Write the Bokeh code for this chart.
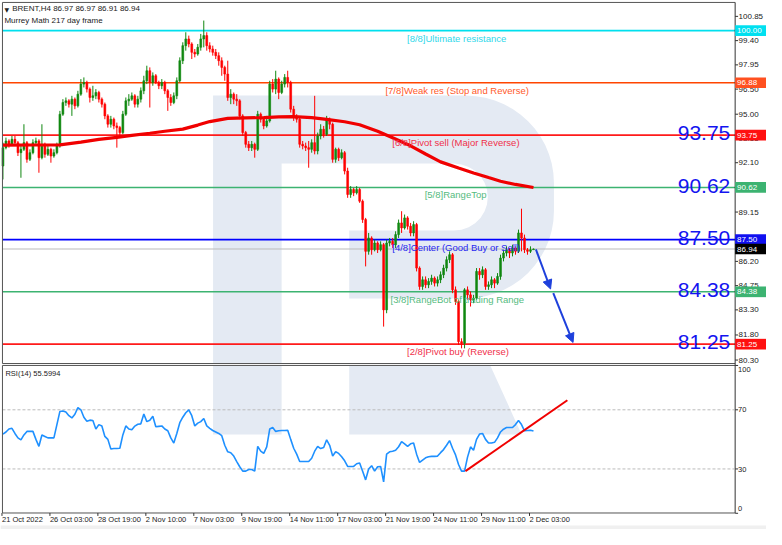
import math
from bokeh.plotting import figure
from bokeh.models import Arrow, NormalHead, Range1d
from bokeh.embed import file_html
from bokeh.resources import INLINE
from bokeh.core.properties import value

# ---------------- data ----------------
first_open = 91.9
close = [
    93.0, 93.4, 93.2, 93.5, 93.3, 92.7, 92.9, 93.3, 92.3, 92.7,
    93.3, 93.4, 92.4, 93.2, 92.6, 92.9, 92.5, 92.7, 93.1, 95.0,
    95.7, 95.8, 95.6, 95.9, 95.5, 96.2, 96.8, 96.9, 96.5, 96.0,
    96.1, 96.3, 95.9, 95.6, 94.9, 94.4, 94.7, 94.3, 94.2, 93.9,
    95.0, 95.8, 95.9, 96.1, 95.6, 95.9, 96.4, 97.0, 97.6, 96.9,
    97.3, 96.9, 96.7, 96.9, 96.4, 96.0, 95.7, 96.1, 97.0, 98.2,
    99.1, 99.5, 99.2, 98.7, 98.6, 99.0, 99.5, 99.7, 99.1, 98.9,
    98.7, 98.5, 98.2, 97.8, 97.4, 96.0, 96.2, 95.9, 95.8, 94.9,
    93.9, 93.2, 93.0, 93.2, 92.9, 95.0, 94.7, 94.3, 94.6, 96.8,
    96.5, 97.1, 96.3, 96.8, 97.2, 96.9, 95.3, 94.8, 94.7, 93.2,
    93.1, 93.0, 92.9, 93.3, 92.8, 93.7, 94.1, 93.8, 94.7, 94.4,
    92.3, 92.9, 92.4, 92.7, 91.6, 90.2, 90.5, 90.3, 90.5, 89.8,
    88.7, 86.8, 87.6, 86.9, 87.3, 86.9, 87.2, 83.3, 87.3, 87.4,
    87.2, 87.8, 88.5, 88.2, 88.8, 88.3, 87.9, 88.4, 85.8, 84.7,
    85.1, 84.8, 85.0, 85.2, 84.9, 85.1, 85.4, 85.8, 86.3, 86.6,
    84.5, 83.8, 81.4, 81.3, 84.5, 84.2, 83.9, 84.0, 85.6, 85.4,
    85.7, 84.7, 84.8, 85.1, 84.9, 85.3, 86.4, 86.7, 86.9, 86.7,
    87.0, 86.8, 87.9, 87.6, 86.9, 86.8, 86.9, 86.94,
]
high = [
    93.3, 93.6, 93.5, 93.7, 93.7, 93.4, 93.1, 94.4, 93.4, 92.9,
    93.5, 93.6, 93.5, 94.4, 93.3, 93.1, 93.0, 92.9, 93.3, 95.2,
    95.9, 96.0, 95.9, 96.1, 96.0, 96.4, 97.1, 97.2, 97.0, 96.6,
    96.7, 96.5, 96.4, 96.0, 95.7, 95.0, 94.9, 94.8, 94.5, 94.3,
    95.2, 96.0, 96.2, 96.3, 96.2, 96.1, 96.6, 97.3, 97.9, 97.8,
    97.5, 97.4, 97.0, 97.1, 97.0, 96.5, 96.2, 96.3, 97.2, 98.4,
    99.3, 99.9, 99.7, 99.3, 98.9, 99.2, 99.8, 100.6, 99.9, 99.3,
    99.1, 98.9, 98.7, 98.4, 97.9, 98.2, 96.5, 96.3, 96.2, 95.9,
    95.0, 94.0, 93.4, 93.4, 93.3, 95.2, 95.1, 94.8, 94.9, 97.0,
    97.1, 97.6, 97.2, 97.0, 97.4, 97.6, 97.0, 95.5, 95.0, 94.8,
    93.4, 93.3, 93.4, 93.5, 96.1, 93.9, 94.4, 94.3, 94.9, 94.8,
    94.5, 93.0, 93.0, 92.9, 92.8, 91.8, 90.7, 90.6, 90.7, 90.6,
    89.9, 88.8, 87.9, 87.7, 87.5, 87.4, 87.4, 87.3, 87.5, 87.6,
    87.6, 88.0, 88.7, 89.2, 89.0, 88.9, 88.5, 88.6, 88.5, 85.9,
    85.3, 85.3, 85.2, 85.4, 85.3, 85.3, 85.6, 86.0, 86.5, 86.8,
    86.7, 84.7, 83.9, 81.6, 84.6, 84.7, 84.4, 84.2, 85.8, 85.8,
    85.9, 85.8, 85.0, 85.3, 85.2, 85.5, 86.6, 86.9, 87.1, 87.0,
    87.2, 87.1, 88.1, 89.35, 87.8, 87.0, 87.1, 86.97,
]
low = [
    91.1, 92.9, 93.0, 93.1, 93.1, 92.5, 91.2, 92.8, 92.1, 92.2,
    92.6, 93.1, 91.5, 92.3, 92.4, 92.5, 92.1, 92.4, 92.6, 93.0,
    94.9, 95.5, 95.4, 94.9, 95.3, 95.4, 96.1, 96.6, 96.3, 95.7,
    95.8, 95.9, 95.7, 95.4, 94.7, 94.2, 94.2, 94.1, 93.0, 93.7,
    93.8, 94.9, 95.5, 95.8, 95.4, 95.4, 95.7, 96.2, 96.8, 95.4,
    96.7, 96.8, 96.5, 96.5, 96.2, 95.2, 95.5, 95.6, 95.9, 96.9,
    98.0, 98.8, 99.0, 98.3, 98.4, 98.5, 98.8, 99.0, 98.8, 98.7,
    98.5, 98.3, 97.9, 97.3, 97.0, 95.8, 95.6, 95.6, 95.5, 94.7,
    93.7, 93.0, 92.8, 92.8, 92.4, 92.8, 94.5, 94.1, 94.2, 94.5,
    96.3, 96.2, 95.9, 96.2, 96.6, 96.6, 95.1, 94.6, 94.5, 93.0,
    92.9, 92.8, 91.8, 92.7, 92.6, 92.6, 93.5, 93.6, 93.7, 94.1,
    92.1, 92.1, 92.2, 92.3, 91.4, 90.0, 90.0, 90.1, 90.2, 89.7,
    88.5, 85.9, 86.6, 86.6, 86.8, 86.7, 86.8, 82.3, 83.1, 87.1,
    87.0, 87.0, 87.6, 87.9, 88.1, 88.1, 87.7, 87.7, 85.6, 84.5,
    84.5, 84.6, 84.6, 84.8, 84.7, 84.7, 84.9, 85.2, 85.6, 86.1,
    84.3, 83.6, 81.2, 81.0, 81.0, 83.9, 83.5, 83.7, 83.9, 85.1,
    85.2, 84.5, 84.5, 84.6, 84.6, 84.8, 85.1, 86.2, 86.5, 86.4,
    86.5, 86.6, 86.7, 86.8, 86.7, 86.6, 86.7, 86.91,
]
rsi = [
    53.6, 55.0, 57.0, 57.5, 54.0, 51.0, 49.7, 53.0, 55.4, 55.4,
    55.4, 50.0, 45.3, 53.0, 52.0, 51.0, 51.0, 51.0, 60.0, 68.9,
    69.2, 68.5, 66.0, 64.5, 67.0, 71.5, 70.0, 65.0, 62.3, 63.0,
    62.8, 57.0, 60.0, 59.0, 52.0, 50.0, 43.5, 43.8, 43.8, 44.0,
    53.0, 59.1, 57.0, 56.5, 59.0, 60.2, 60.5, 67.2, 62.0, 63.0,
    65.6, 58.5, 58.8, 59.1, 57.0, 55.8, 51.0, 47.5, 54.0, 61.3,
    65.0, 68.0, 70.0, 66.0, 59.1, 61.0, 62.0, 64.1, 59.1, 57.5,
    56.0, 55.0, 54.0, 52.5, 46.0, 41.6, 41.0, 38.7, 35.0, 31.5,
    28.5, 28.5, 29.6, 29.6, 28.5, 45.3, 42.0, 40.5, 44.9, 57.0,
    58.0, 55.4, 55.8, 56.0, 56.0, 56.2, 50.0, 44.0, 40.0, 35.0,
    35.0, 35.0, 35.0, 37.2, 42.0, 45.3, 43.8, 44.5, 49.7, 46.0,
    38.7, 41.6, 40.5, 38.3, 35.5, 31.7, 31.7, 31.7, 33.5, 34.0,
    28.5, 22.6, 30.0, 32.2, 28.5, 31.5, 31.7, 21.3, 40.0, 41.6,
    42.0, 42.7, 45.0, 48.5, 47.0, 45.3, 47.0, 47.5, 40.0, 34.4,
    36.0, 37.5, 38.3, 38.5, 38.5, 38.7, 41.0, 43.1, 46.0, 49.2,
    44.0, 39.5, 33.0, 28.5, 28.5, 38.0, 44.9, 42.7, 50.0, 53.6,
    54.0, 50.0, 47.5, 47.5, 48.0, 51.0, 55.0, 56.9, 58.0, 58.0,
    58.0, 60.0, 62.8, 60.0, 55.8, 56.0, 56.2, 55.6,
]
ma_bar = [0, 10, 19, 26, 32, 38, 43, 49, 54, 60, 65, 69, 75, 81, 87, 92, 97, 103, 108,
          114, 119, 125, 130, 136, 141, 146, 152, 157, 162, 166, 171, 177]
ma_val = [93.15, 93.16, 93.17, 93.33, 93.50, 93.62, 93.73, 93.86, 93.98, 94.11, 94.35, 94.56,
          94.75, 94.78, 94.80, 94.84, 94.85, 94.80, 94.69, 94.55, 94.37, 93.98, 93.59, 93.11,
          92.62, 92.15, 91.78, 91.49, 91.21, 90.99, 90.80, 90.62]

levels = [100.00, 96.88, 93.75, 90.62, 87.50, 84.38, 81.25]
level_names = ["[8/8]Ultimate resistance", "[7/8]Weak res (Stop and Reverse)",
               "[6/8]Pivot sell (Major Reverse)", "[5/8]RangeTop",
               "[4/8]Center (Good Buy or Sell)", "[3/8]RangeBot of trading Range",
               "[2/8]Pivot buy (Reverse)"]
level_colors = ["#00E0EE", "#FF4500", "#FF1A1A", "#3CB371", "#0000FF", "#3CB371", "#FF1A1A"]
level_text_colors = ["#30D8EA", "#FF5A2A", "#F0304A", "#55BB80", "#2828F0", "#55BB80", "#F0304A"]
level_box_colors = ["#00E0F0", "#FF5020", "#FF1010", "#3CB371", "#1010F0", "#3CB371", "#FF1010"]
level_text_bar = [134.8, 127.6, 129.9, 140.7, 129.9, 129.3, 134.8]
big_levels = [93.75, 90.62, 87.50, 84.38, 81.25]
last_price = 86.94
price_ticks = [100.85, 99.40, 97.95, 96.50, 95.00, 93.55, 92.10, 89.15,
               86.20, 84.75, 83.30, 81.80, 80.30]
rsi_ticks = [100, 70, 30, 0]
rsi_levels = [70, 30]
date_tick_bars = [0, 16, 32, 48, 64, 80, 96, 112, 128, 144, 160, 176]
date_labels = ["21 Oct 2022", "26 Oct 03:00", "28 Oct 19:00", "2 Nov 10:00", "7 Nov 03:00",
               "9 Nov 19:00", "14 Nov 11:00", "17 Nov 03:00", "21 Nov 19:00", "24 Nov 11:00",
               "29 Nov 11:00", "2 Dec 03:00"]
arrow_x0 = [177.8, 183.6]
arrow_y0 = [86.92, 84.30]
arrow_x1 = [182.7, 190.2]
arrow_y1 = [84.55, 81.35]
rsi_trend_bar = [154.3, 188.3]
rsi_trend_val = [28.5, 76.5]
title1 = "BRENT,H4  86.97 86.97 86.91 86.94"
title2 = "Murrey Math 217 day frame"
rsi_title = "RSI(14) 55.5994"

# ---------------- layout: reference-pixel helpers ----------------
FNAME = "Liberation Sans"
FONT = value(FNAME)
W, H = 766, 529
REF_W, REF_H = 782, 545
BAR0, BARW = 2.5, 3.06          # bar 0 centre and bar pitch in reference pixels
PY0, PPX = 31.0, 17.23          # price 100 at y=31, px per price unit
RY0, RPX = 376.0, 1.523         # rsi 100 at y=376, px per rsi unit

def X(xr):
    return (xr - BAR0) / BARW
def PY(yr):
    return 100 - (yr - PY0) / PPX
def RY(yr):
    return 100 - (yr - RY0) / RPX

XS, XE = X(0), X(REF_W)
YS, YE = PY(REF_H), PY(0)
RS, RE = RY(REF_H), RY(0)

AXIS_X = 750        # right price axis line
LEFT_X = 2
MAIN_TOP, MAIN_BOT = 2, 374
RSI_TOP, RSI_BOT = 376, 528
INK = "#222222"
FRAME = "#555555"
GREEN, RED = "#118811", "#FF0000"
LOGO = "#E4EAF3"

bars = list(range(len(close)))
opens = [first_open] + close[:-1]
cols = [GREEN if c >= o else RED for o, c in zip(opens, close)]
body_lo = [min(o, c) for o, c in zip(opens, close)]
body_hi = [max(o, c) for o, c in zip(opens, close)]

p = figure(width=W, height=H, x_range=Range1d(XS, XE), y_range=Range1d(YS, YE),
           output_backend="svg", toolbar_location=None,
           x_axis_location=None, y_axis_location=None, min_border=0)
p.min_border_left = p.min_border_right = p.min_border_top = p.min_border_bottom = 0
p.extra_y_ranges = {"rsi": Range1d(RS, RE)}
p.grid.visible = False
p.outline_line_color = None
p.background_fill_color = "white"
p.border_fill_color = "white"

# ---------------- watermark logo ----------------
def arc(cx, cy, r, a0, a1, n=14):
    return [(cx + r * math.cos(math.radians(a0 + (a1 - a0) * k / n)),
             cy + r * math.sin(math.radians(a0 + (a1 - a0) * k / n))) for k in range(n + 1)]

logo_main = ([(217, 98)] + arc(475, 188, 90, -90, 0) + arc(475, 217, 90, 0, 90) +
             [(356, 307), (356, 237)] + arc(463, 202.5, 34.5, 90, -90) +
             [(287, 168), (287, 374), (217, 374)])
logo_low = [(217, 376), (287, 376), (287, 447), (217, 447)]
logo_leg = [(356, 376), (500, 376), (532, 447), (356, 447)]
for poly in (logo_main, logo_low, logo_leg):
    p.patch([X(a) for a, b in poly], [PY(b) for a, b in poly], fill_color=LOGO, line_color=None)

# light strip at the very bottom of the window
p.quad(left=[X(0)], right=[X(REF_W)], bottom=[PY(REF_H)], top=[PY(541)],
       fill_color="#F0F0F0", line_color=None)

# ---------------- level lines ----------------
p.segment(x0=[X(LEFT_X)] * len(levels), x1=[X(AXIS_X)] * len(levels), y0=levels, y1=levels,
          line_color=level_colors, line_width=1.6)
p.segment(x0=[X(LEFT_X)], x1=[X(AXIS_X)], y0=[last_price], y1=[last_price],
          line_color="#BBBBBB", line_width=1)

# ---------------- candles and MA ----------------
p.segment(x0=bars, y0=low, x1=bars, y1=high, line_color=cols, line_width=1)
p.vbar(x=bars, bottom=body_lo, top=body_hi, width=0.62, fill_color=cols, line_color=cols,
       line_width=0.6)
p.line(ma_bar, ma_val, line_color="#F00000", line_width=3.2)

# ---------------- level texts ----------------
p.text(x=level_text_bar, y=[v - 2 / PPX for v in levels], text=level_names,
       text_color=level_text_colors, text_font=FONT, text_font_size="9.5px",
       text_baseline="top", text_align="left")
p.text(x=[X(745)] * len(big_levels), y=[v + 2 / PPX for v in big_levels],
       text=[f"{v:.2f}" for v in big_levels], text_color="#1414F0", text_font=FONT,
       text_font_size="21px", text_align="right", text_baseline="alphabetic")

for x0, y0, x1, y1 in zip(arrow_x0, arrow_y0, arrow_x1, arrow_y1):
    p.add_layout(Arrow(x_start=x0, y_start=y0, x_end=x1, y_end=y1,
                       line_color="#1E40DC", line_width=2,
                       end=NormalHead(size=9, fill_color="#1E40DC", line_color="#1E40DC")))

p.text(x=[X(4)], y=[PY(6)], text=["\u25BC"], text_font=value("DejaVu Sans"),
       text_font_size="6px", text_color=INK, text_baseline="top")
p.text(x=[X(12)], y=[PY(4)], text=[title1], text_font=FONT,
       text_font_size="8px", text_color=INK, text_baseline="top")
p.text(x=[X(4)], y=[PY(16)], text=[title2], text_font=FONT,
       text_font_size="8px", text_color=INK, text_baseline="top")

# ---------------- RSI panel ----------------
p.segment(x0=[X(LEFT_X)] * 2, x1=[X(AXIS_X - 1)] * 2, y0=rsi_levels, y1=rsi_levels,
          y_range_name="rsi", line_color="#BBBBBB", line_width=1, line_dash="3 2")
p.line(bars, rsi, y_range_name="rsi", line_color="#1E90FF", line_width=1.6)
p.line(rsi_trend_bar, rsi_trend_val, y_range_name="rsi", line_color="#F00000", line_width=2)
p.text(x=[X(5)], y=[PY(380)], text=[rsi_title], text_font=FONT,
       text_font_size="7.5px", text_color=INK, text_baseline="top")

# ---------------- frames ----------------
for top, bot in ((MAIN_TOP, MAIN_BOT), (RSI_TOP, RSI_BOT)):
    p.segment(x0=[X(LEFT_X), X(LEFT_X), X(LEFT_X)], x1=[X(AXIS_X), X(AXIS_X), X(LEFT_X)],
              y0=[PY(top), PY(bot), PY(top)], y1=[PY(top), PY(bot), PY(bot)],
              line_color=FRAME, line_width=1)
p.segment(x0=[X(AXIS_X)], x1=[X(AXIS_X)], y0=[PY(MAIN_TOP)], y1=[PY(RSI_BOT)],
          line_color="#333333", line_width=1)

# ---------------- right price scale ----------------
p.segment(x0=[X(AXIS_X)] * len(price_ticks), x1=[X(AXIS_X + 3)] * len(price_ticks),
          y0=price_ticks, y1=price_ticks, line_color="#333333", line_width=1)
p.text(x=[X(AXIS_X + 3.5)] * len(price_ticks), y=price_ticks,
       text=[f"{t:.2f}" for t in price_ticks], text_font=FONT, text_font_size="8px",
       text_color=INK, text_baseline="middle", text_align="left")

p.quad(left=[X(AXIS_X)] * len(levels), right=[X(REF_W)] * len(levels),
       bottom=[v - 5.5 / PPX for v in levels], top=[v + 5.5 / PPX for v in levels],
       fill_color=level_box_colors, line_color=None)
p.text(x=[X(AXIS_X + 2)] * len(levels), y=levels, text=[f"{v:.2f}" for v in levels],
       text_font=FONT, text_font_size="8px", text_color="white",
       text_baseline="middle", text_align="left")
p.quad(left=[X(AXIS_X)], right=[X(REF_W)], bottom=[last_price - 5.5 / PPX],
       top=[last_price + 5.5 / PPX], fill_color="#000000", line_color=None)
p.text(x=[X(AXIS_X + 2)], y=[last_price], text=[f"{last_price:.2f}"],
       text_font=FONT, text_font_size="8px", text_color="white",
       text_baseline="middle", text_align="left")

# ---------------- right RSI scale ----------------
p.segment(x0=[X(AXIS_X)] * len(rsi_ticks), x1=[X(AXIS_X + 3)] * len(rsi_ticks),
          y0=rsi_ticks, y1=rsi_ticks, y_range_name="rsi", line_color="#333333", line_width=1)
rsi_label_y = [380, 421.7, 482.7, 523.3]
p.text(x=[X(AXIS_X + 3)] * len(rsi_ticks), y=[PY(v) for v in rsi_label_y],
       text=[str(t) for t in rsi_ticks], text_font=FONT, text_font_size="7.5px",
       text_color=INK, text_baseline="middle", text_align="left")

# ---------------- time scale ----------------
date_x = [X(BAR0 + b * BARW - 1) for b in date_tick_bars]
p.segment(x0=date_x, x1=date_x, y0=[PY(RSI_BOT)] * len(date_x), y1=[PY(RSI_BOT + 3)] * len(date_x),
          line_color="#333333", line_width=1)
p.text(x=date_x, y=[PY(535)] * len(date_x), text=date_labels, text_font=FONT,
       text_font_size="7.5px", text_color=INK, text_baseline="middle", text_align="left")

open("out.html", "w").write(file_html(p, INLINE))
